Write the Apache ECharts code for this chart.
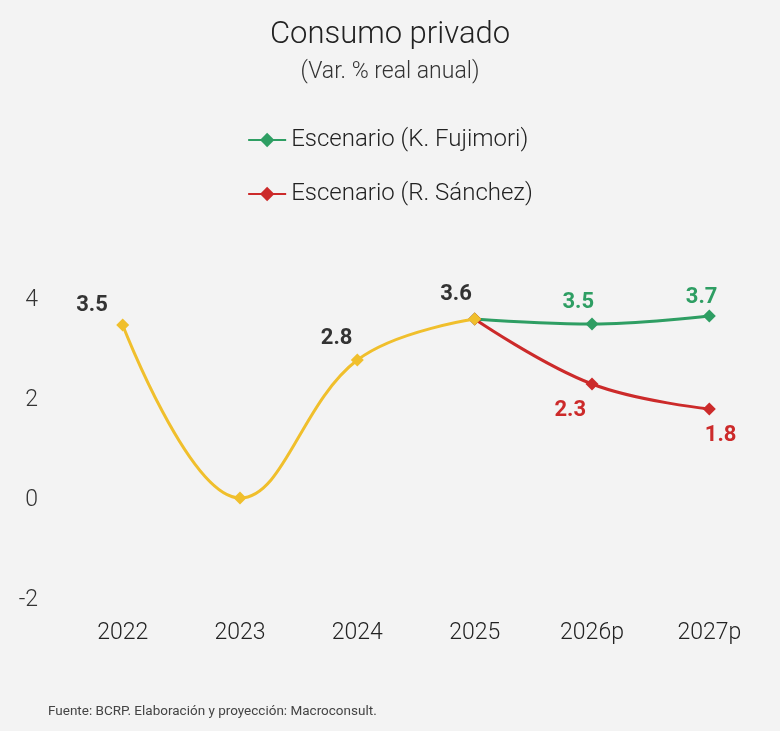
<!DOCTYPE html>
<html><head><meta charset="utf-8">
<script src="https://cdn.jsdelivr.net/npm/echarts@6/dist/echarts.min.js"></script>
<style>html,body{margin:0;padding:0;background:#f3f3f3}#c{width:780px;height:731px}</style>
</head><body><div id="c"></div>
<script>
const categories = ['2022','2023','2024','2025','2026p','2027p'];
const histValues = [3.5, 0.04, 2.8, 3.62, null, null];
const histLabels = ['3.5', '', '2.8', '3.6', '', ''];
const fujimoriValues = [null, null, null, 3.62, 3.52, 3.68];
const fujimoriLabels = ['', '', '', '', '3.5', '3.7'];
const sanchezValues = [null, null, null, 3.62, 2.32, 1.82];
const sanchezLabels = ['', '', '', '', '2.3', '1.8'];
const yTicks = [-2, 0, 2, 4];

const F = 'Roboto, "Noto Sans", sans-serif';
function mk(vals, labs, pos) {
  return vals.map((v, i) => ({
    value: v,
    label: { show: labs[i] !== '', formatter: labs[i], position: pos[i] || 'top' }
  }));
}
const chart = echarts.init(document.getElementById('c'));
chart.setOption({
  backgroundColor: '#f3f3f3',
  animation: false,
  title: [
    { text: 'Consumo privado', left: 'center', top: 15, textStyle: { fontFamily: F, fontWeight: 300, fontSize: 31, color: '#222' } },
    { text: '(Var. % real anual)', left: 'center', top: 56, textStyle: { fontFamily: F, fontWeight: 300, fontSize: 23, color: '#333' } },
    { text: 'Fuente: BCRP. Elaboración y proyección: Macroconsult.', left: 43, top: 700, textStyle: { fontFamily: F, fontWeight: 400, fontSize: 13.5, color: '#444' } }
  ],
  legend: {
    orient: 'vertical', left: 'center', top: 123, itemGap: 30,
    data: ['Escenario (K. Fujimori)', 'Escenario (R. Sánchez)'],
    itemWidth: 38, itemHeight: 18, itemStyle: {borderWidth: 0},
    textStyle: { fontFamily: F, fontWeight: 300, fontSize: 24, color: '#222' }
  },
  grid: { left: 64, right: 12, top: 300, bottom: 131 },
  xAxis: {
    type: 'category', data: categories,
    axisLine: { show: false }, axisTick: { show: false },
    axisLabel: { fontFamily: F, fontWeight: 300, fontSize: 23, color: '#222', margin: 22 }
  },
  yAxis: {
    type: 'value', min: -2, max: 4, interval: 2,
    splitLine: { show: false }, axisLine: { show: false }, axisTick: { show: false },
    axisLabel: { fontFamily: F, fontWeight: 300, fontSize: 23, color: '#333', margin: 26,
      formatter: v => yTicks.includes(v) ? String(v) : '' }
  },
  series: [
    { name: 'Escenario (K. Fujimori)', type: 'line', smooth: 0.4, symbol: 'diamond', symbolSize: 13,
      itemStyle: { color: '#2e9e63' }, lineStyle: { width: 3, color: '#2e9e63' }, z: 3,
      label: { fontFamily: F, fontWeight: 'bold', fontSize: 22, color: '#2e9e63' },
      data: mk(fujimoriValues, fujimoriLabels, {4: [-23, -26], 5: [-17, -23]}) },
    { name: 'Escenario (R. Sánchez)', type: 'line', smooth: 0.4, symbol: 'diamond', symbolSize: 13,
      itemStyle: { color: '#cc2a2a' }, lineStyle: { width: 3, color: '#cc2a2a' }, z: 3,
      label: { fontFamily: F, fontWeight: 'bold', fontSize: 22, color: '#cc2a2a' },
      data: mk(sanchezValues, sanchezLabels, {4: [-31, 22], 5: [2, 22]}) },
    { name: 'hist', type: 'line', smooth: 0.4, symbol: 'diamond', symbolSize: 13,
      itemStyle: { color: '#f0bf2c' }, lineStyle: { width: 3, color: '#f0bf2c' }, z: 4,
      label: { fontFamily: F, fontWeight: 'bold', fontSize: 22, color: '#333' },
      data: mk(histValues, histLabels, {0: [-40, -24], 2: [-30, -26], 3: [-28, -29]}) }
  ]
});
</script></body></html>
